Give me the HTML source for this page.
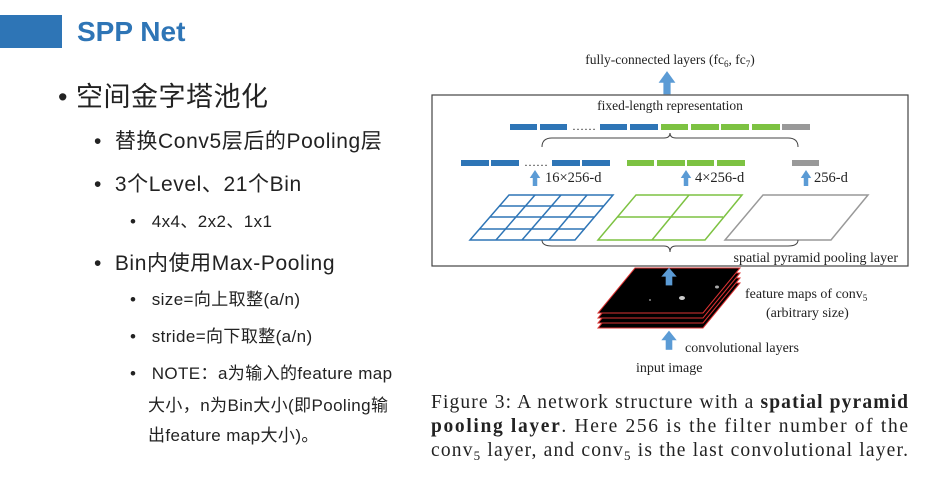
<!DOCTYPE html>
<html><head><meta charset="utf-8"><style>
body{margin:0;width:936px;height:502px;background:#fff;position:relative;overflow:hidden;font-family:"Liberation Sans","Noto Sans CJK SC",sans-serif;color:#222}
.t{position:absolute;white-space:nowrap;line-height:1}
.l2{font-size:21px;letter-spacing:0.6px}
.l3{font-size:17px;letter-spacing:0.4px}
</style></head><body>
<div style="position:absolute;left:0;top:15px;width:62px;height:33px;background:#2e75b6"></div>
<div class="t" style="left:77px;top:18px;font-size:28px;font-weight:bold;color:#2e75b6">SPP Net</div>
<div class="t" style="left:58px;top:84px;font-size:27px;letter-spacing:0.5px">• 空间金字塔池化</div>
<div class="t l2" style="left:94px;top:131px">•&nbsp; 替换Conv5层后的Pooling层</div>
<div class="t l2" style="left:94px;top:174px">•&nbsp; 3个Level、21个Bin</div>
<div class="t l3" style="left:130px;top:213px">•&nbsp;&nbsp; 4x4、2x2、1x1</div>
<div class="t l2" style="left:94px;top:253px">•&nbsp; Bin内使用Max-Pooling</div>
<div class="t l3" style="left:130px;top:291px">•&nbsp;&nbsp; size=向上取整(a/n)</div>
<div class="t l3" style="left:130px;top:328px">•&nbsp;&nbsp; stride=向下取整(a/n)</div>
<div class="t l3" style="left:130px;top:365px">•&nbsp;&nbsp; NOTE：a为输入的feature map</div>
<div class="t l3" style="left:148px;top:397px">大小，n为Bin大小(即Pooling输</div>
<div class="t l3" style="left:148px;top:427px">出feature map大小)。</div>

<svg width="936" height="502" style="position:absolute;left:0;top:0" font-family="Liberation Serif, serif">
<defs><g id="ar"><rect x="-3" y="5" width="6" height="9" fill="#5b9bd5"/><polygon points="-7,6 0,-2 7,6" fill="#5b9bd5"/></g></defs>
<text x="670" y="64" font-size="13.5" text-anchor="middle" fill="#222">fully-connected layers (fc<tspan font-size="9" dy="3">6</tspan><tspan dy="-3">, fc</tspan><tspan font-size="9" dy="3">7</tspan><tspan dy="-3">)</tspan></text>
<g transform="translate(667,74) scale(1.2,1.45)"><use href="#ar"/></g>
<rect x="432" y="95" width="476" height="171" fill="none" stroke="#444" stroke-width="1.2"/>
<text x="670" y="110" font-size="13.5" text-anchor="middle" fill="#222">fixed-length representation</text>
<g fill="#2e75b6"><rect x="510" y="124" width="27" height="6"/><rect x="540" y="124" width="27" height="6"/><rect x="600" y="124" width="27" height="6"/><rect x="630" y="124" width="28" height="6"/>
<rect x="461" y="160" width="28" height="6"/><rect x="491" y="160" width="28" height="6"/><rect x="552" y="160" width="28" height="6"/><rect x="582" y="160" width="28" height="6"/></g>
<g fill="#7dc242"><rect x="661" y="124" width="27" height="6"/><rect x="691" y="124" width="28" height="6"/><rect x="721" y="124" width="28" height="6"/><rect x="752" y="124" width="28" height="6"/>
<rect x="627" y="160" width="27" height="6"/><rect x="657" y="160" width="28" height="6"/><rect x="687" y="160" width="27" height="6"/><rect x="717" y="160" width="28" height="6"/></g>
<g fill="#999"><rect x="782" y="124" width="28" height="6"/><rect x="792" y="160" width="27" height="6"/></g>
<text x="572" y="130" font-size="12" fill="#222">……</text>
<text x="524" y="166" font-size="12" fill="#222">……</text>
<path d="M542 147 Q542 138 552 138 L664 138 Q670 138 670 133 Q670 138 676 138 L788 138 Q798 138 798 147" fill="none" stroke="#444" stroke-width="1"/>
<g transform="translate(535,172) scale(0.75,1)"><use href="#ar"/></g>
<g transform="translate(686,172) scale(0.75,1)"><use href="#ar"/></g>
<g transform="translate(806,172) scale(0.75,1)"><use href="#ar"/></g>
<text x="545" y="182" font-size="14.5" fill="#222">16×256-d</text>
<text x="695" y="182" font-size="14.5" fill="#222">4×256-d</text>
<text x="814" y="182" font-size="14.5" fill="#222">256-d</text>
<g fill="none" stroke="#2e75b6" stroke-width="1.5">
<polygon points="509,195 613,195 575,240 470,240"/>
<line x1="499" y1="206" x2="604" y2="206"/><line x1="490" y1="217" x2="594" y2="217"/><line x1="480" y1="229" x2="585" y2="229"/>
<line x1="535" y1="195" x2="496" y2="240"/><line x1="561" y1="195" x2="522" y2="240"/><line x1="587" y1="195" x2="549" y2="240"/></g>
<g fill="none" stroke="#7dc242" stroke-width="1.5">
<polygon points="636,195 742,195 705,240 598,240"/>
<line x1="617" y1="217" x2="723" y2="217"/><line x1="689" y1="195" x2="652" y2="240"/></g>
<polygon points="763,195 868,195 831,240 725,240" fill="none" stroke="#999" stroke-width="1.5"/>
<path d="M542 240 Q542 246 552 246 L664 246 Q670 246 670 252 Q670 246 676 246 L788 246 Q798 246 798 240" fill="none" stroke="#444" stroke-width="1"/>
<text x="898" y="262" font-size="14" text-anchor="end" fill="#222">spatial pyramid pooling layer</text>
<g stroke="#d33" stroke-width="1">
<polygon points="635,283 740,283 703,328 598,328" fill="#000"/>
<polygon points="635,278 740,278 703,323 598,323" fill="#000"/>
<polygon points="635,273 740,273 703,318 598,318" fill="#000"/>
<polygon points="635,268 740,268 703,313 598,313" fill="#000"/></g>
<ellipse cx="682" cy="298" rx="3" ry="2" fill="#ccc"/><ellipse cx="717" cy="287" rx="2" ry="1.5" fill="#aaa"/><circle cx="650" cy="300" r="1" fill="#888"/>
<g transform="translate(669,270) scale(1.1,1.1)"><use href="#ar"/></g>
<text x="745" y="298" font-size="14" fill="#222">feature maps of conv<tspan font-size="9" dy="3">5</tspan></text>
<text x="766" y="317" font-size="14" fill="#222">(arbitrary size)</text>
<g transform="translate(669,333) scale(1.1,1.2)"><use href="#ar"/></g>
<text x="685" y="352" font-size="14" fill="#222">convolutional layers</text>
<text x="636" y="372" font-size="14" fill="#222">input image</text>
<g font-size="19.5" fill="#222">
<text x="431" y="408" textLength="477" lengthAdjust="spacing">Figure 3: A network structure with a <tspan font-weight="bold">spatial pyramid</tspan></text>
<text x="431" y="432" textLength="477" lengthAdjust="spacing"><tspan font-weight="bold">pooling layer</tspan>. Here 256 is the filter number of the</text>
<text x="431" y="456" textLength="477" lengthAdjust="spacing">conv<tspan font-size="13" dy="4">5</tspan><tspan dy="-4"> layer, and conv</tspan><tspan font-size="13" dy="4">5</tspan><tspan dy="-4"> is the last convolutional layer.</tspan></text>
</g>
</svg>
</body></html>
